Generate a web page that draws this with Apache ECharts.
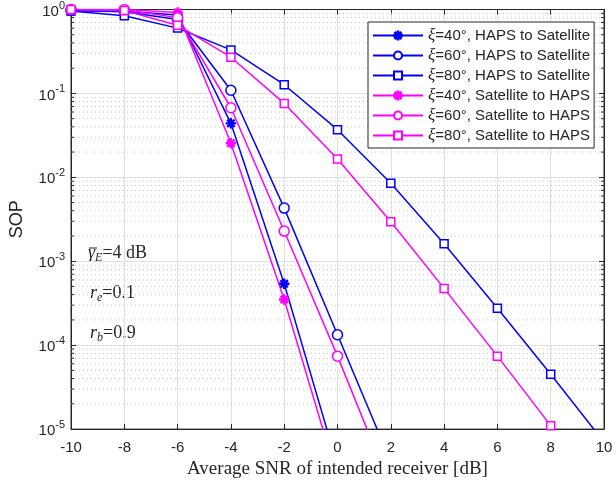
<!DOCTYPE html>
<html>
<head>
<meta charset="utf-8">
<script src="https://cdn.jsdelivr.net/npm/echarts@6/dist/echarts.min.js"></script>
<style>
  html, body { margin: 0; padding: 0; background: #fff; }
  #chart { width: 616px; height: 484px; }
</style>
</head>
<body>
<div id="chart"></div>
<script>
// SNR values (dB) on the x axis
const snrDb = [-10, -8, -6, -4, -2, 0, 2, 4, 6, 8, 10];

// SOP values
const hapsToSat40 = [0.97, 0.95, 0.86, 0.044, 5.4e-4, 3.7e-6];
const hapsToSat60 = [0.97, 0.94, 0.76, 0.109, 4.3e-3, 1.33e-4, 4.1e-6];
const hapsToSat80 = [0.96, 0.84, 0.6, 0.33, 0.127, 0.037, 8.5e-3, 1.62e-3, 2.75e-4, 4.5e-5, 7e-6];
const satToHaps40 = [1.0, 1.0, 0.92, 0.0255, 3.5e-4, 2.6e-6];
const satToHaps60 = [1.0, 0.99, 0.8, 0.0675, 2.29e-3, 7.4e-5, 2.0e-6];
const satToHaps80 = [1.0, 0.97, 0.65, 0.27, 0.076, 0.0165, 2.95e-3, 4.75e-4, 7.4e-5, 1.1e-5, 1.7e-6];

const seriesNames = [
  'ξ=40°, HAPS to Satellite',
  'ξ=60°, HAPS to Satellite',
  'ξ=80°, HAPS to Satellite',
  'ξ=40°, Satellite to HAPS',
  'ξ=60°, Satellite to HAPS',
  'ξ=80°, Satellite to HAPS'
];

const BLUE = '#0000ff';
const MAGENTA = '#ff00ff';
const AXIS = '#262626';
const SANS = 'Liberation Sans, Arial, sans-serif';
const SERIF = 'Liberation Serif, serif';

// matlab style asterisk marker
const starPath = 'path://M-0.1,-1L0.1,-1L0.1,1L-0.1,1Z' +
  'M-1,-0.1L1,-0.1L1,0.1L-1,0.1Z' +
  'M-0.63,-0.77L0.77,0.63L0.63,0.77L-0.77,-0.63Z' +
  'M-0.77,0.63L0.63,-0.77L0.77,-0.63L-0.63,0.77Z';

// dotted minor grid on the log axis (2..9 x 10^k)
let minorVals = [];
for (let e = -5; e < 0; e++) {
  for (let m = 2; m <= 9; m++) minorVals.push([-10, m * Math.pow(10, e)]);
}

function pairs(vals) {
  return vals.map((v, i) => [snrDb[i], v]);
}

function lineSeries(name, vals, color, symbol, size) {
  return {
    name: name,
    type: 'line',
    data: pairs(vals),
    symbol: symbol,
    symbolSize: size,
    showAllSymbol: true,
    clip: true,
    z: 5,
    lineStyle: { color: color, width: 1.5 },
    itemStyle: { color: symbol === starPath ? color : '#fff', borderColor: color, borderWidth: 1.5 }
  };
}

const annoRich = {
  g: { fontFamily: SERIF, fontStyle: 'italic', fontSize: 18, fill: AXIS },
  sub: { fontFamily: SERIF, fontStyle: 'italic', fontSize: 12, fill: AXIS, verticalAlign: 'top', padding: [9, 0, 0, 0] },
  n: { fontFamily: SERIF, fontSize: 18, fill: AXIS }
};

const chart = echarts.init(document.getElementById('chart'));

const option = {
  animation: false,
  backgroundColor: '#fff',
  grid: {
    left: 68, right: 12, top: 9, bottom: 52,
    show: true, borderColor: AXIS, borderWidth: 1, backgroundColor: '#fff'
  },
  legend: {
    data: seriesNames,
    orient: 'vertical',
    left: 368,
    top: 22,
    padding: [5, 4, 4, 4],
    itemWidth: 50,
    itemHeight: 10,
    itemGap: 3,
    backgroundColor: '#fff',
    borderColor: AXIS,
    borderWidth: 1,
    borderRadius: 0,
    formatter: function (name) {
      return '{x|ξ}' + name.slice(1);
    },
    textStyle: {
      fontFamily: SANS,
      fontSize: 15,
      lineHeight: 14,
      color: AXIS,
      rich: {
        x: { fontFamily: SERIF, fontStyle: 'italic', fontSize: 17, lineHeight: 14, color: AXIS }
      }
    }
  },
  xAxis: [
    {
      type: 'value',
      min: -10, max: 10, interval: 2,
      name: 'Average SNR of intended receiver [dB]',
      nameLocation: 'middle',
      nameGap: 29,
      nameTextStyle: { fontFamily: SERIF, fontSize: 19, color: AXIS },
      axisLine: { show: true, onZero: false, lineStyle: { color: AXIS, width: 1 } },
      axisTick: { inside: true, length: 5, lineStyle: { color: AXIS } },
      axisLabel: { fontFamily: SANS, fontSize: 15, color: AXIS, margin: 11 },
      splitLine: { show: true, lineStyle: { color: '#dfdfdf', width: 1 } }
    },
    {
      type: 'value', position: 'top',
      min: -10, max: 10, interval: 2,
      axisLine: { show: true, onZero: false, lineStyle: { color: AXIS } },
      axisTick: { inside: true, length: 5, lineStyle: { color: AXIS } },
      axisLabel: { show: false },
      splitLine: { show: false }
    }
  ],
  yAxis: [
    {
      type: 'log',
      logBase: 10,
      min: 1e-5, max: 1,
      name: 'SOP',
      nameLocation: 'middle',
      nameGap: 45,
      nameTextStyle: { fontFamily: SANS, fontSize: 18, color: AXIS },
      axisLine: { show: true, onZero: false, lineStyle: { color: AXIS, width: 1 } },
      axisTick: { inside: true, length: 5, lineStyle: { color: AXIS } },
      axisLabel: {
        margin: 6,
        formatter: function (v) {
          const e = Math.round(Math.log10(v));
          return '{b|10}{s|' + e + '}';
        },
        rich: {
          b: { fontFamily: SANS, fontSize: 15, color: AXIS, padding: [4, 0, 0, 0] },
          s: { fontFamily: SANS, fontSize: 11, color: AXIS, verticalAlign: 'bottom', padding: [0, 0, 8, 0] }
        }
      },
      splitLine: { show: true, lineStyle: { color: '#dfdfdf', width: 1 } }
    },
    {
      type: 'log', logBase: 10, position: 'right',
      min: 1e-5, max: 1,
      axisLine: { show: true, onZero: false, lineStyle: { color: AXIS } },
      axisTick: { inside: true, length: 5, lineStyle: { color: AXIS } },
      axisLabel: { show: false },
      splitLine: { show: false }
    }
  ],
  graphic: [
    { type: 'text', left: 88, top: 244, style: { text: '{g|γ}{sub|E}{n|=4 dB}', rich: annoRich } },
    { type: 'line', shape: { x1: 89, y1: 248, x2: 97, y2: 248 }, style: { stroke: AXIS, lineWidth: 1 } },
    { type: 'text', left: 90, top: 284, style: { text: '{g|r}{sub|e}{n|=0.1}', rich: annoRich } },
    { type: 'text', left: 90, top: 324, style: { text: '{g|r}{sub|b}{n|=0.9}', rich: annoRich } }
  ],
  series: [
    {
      name: 'minorGrid',
      type: 'custom',
      silent: true,
      z: 1,
      data: minorVals,
      renderItem: function (params, api) {
        const y = api.value(1);
        const p1 = api.coord([-10, y]);
        const p2 = api.coord([10, y]);
        return {
          type: 'group',
          children: [
            { type: 'line', shape: { x1: p1[0], y1: p1[1], x2: p2[0], y2: p2[1] },
              style: { stroke: '#c8c8c8', lineWidth: 1, lineDash: [1, 3] } },
            { type: 'line', shape: { x1: p1[0], y1: p1[1], x2: p1[0] + 3, y2: p1[1] },
              style: { stroke: AXIS, lineWidth: 1 } },
            { type: 'line', shape: { x1: p2[0] - 3, y1: p2[1], x2: p2[0], y2: p2[1] },
              style: { stroke: AXIS, lineWidth: 1 } }
          ]
        };
      }
    },
    lineSeries(seriesNames[0], hapsToSat40, BLUE, starPath, 9),
    lineSeries(seriesNames[1], hapsToSat60, BLUE, 'circle', 10),
    lineSeries(seriesNames[2], hapsToSat80, BLUE, 'rect', 8),
    lineSeries(seriesNames[3], satToHaps40, MAGENTA, starPath, 9),
    lineSeries(seriesNames[4], satToHaps60, MAGENTA, 'circle', 10),
    lineSeries(seriesNames[5], satToHaps80, MAGENTA, 'rect', 8)
  ]
};

chart.setOption(option);
</script>
</body>
</html>
